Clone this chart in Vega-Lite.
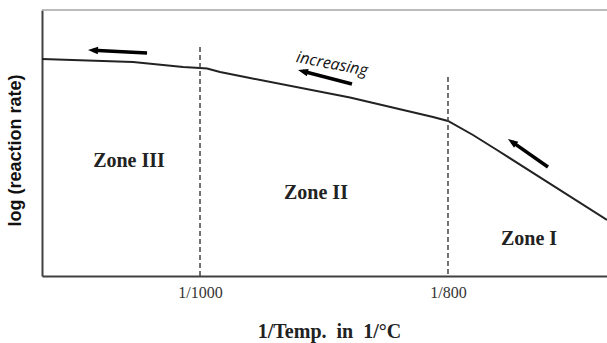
{
  "$schema": "https://vega.github.io/schema/vega-lite/v6.json",
  "width": 565,
  "height": 266,
  "autosize": "none",
  "padding": {"left": 42, "top": 10, "right": 0, "bottom": 67},
  "background": "white",
  "config": {"view": {"stroke": null}},
  "datasets": {
    "curve": [
      {"x": 84.07, "y": 217},
      {"x": 93.25, "y": 214},
      {"x": 98.29, "y": 209},
      {"x": 100, "y": 208},
      {"x": 100.71, "y": 207.5},
      {"x": 102.02, "y": 204},
      {"x": 105.04, "y": 198},
      {"x": 115.12, "y": 178.5},
      {"x": 123.49, "y": 159},
      {"x": 125, "y": 155},
      {"x": 127.52, "y": 141},
      {"x": 129.94, "y": 126},
      {"x": 141.03, "y": 56}
    ],
    "frame": [{"y": 266}],
    "zones": [
      {"x": 100, "y": 229, "y2": 0},
      {"x": 125, "y": 199, "y2": 0}
    ],
    "shafts": [
      {"x": 94.66, "y": 223, "x2": 89.21, "y2": 225.75},
      {"x": 115.32, "y": 192, "x2": 110.37, "y2": 204.74},
      {"x": 135.08, "y": 109, "x2": 131.46, "y2": 134.13}
    ],
    "labels": [
      {"x": 92.84, "y": 115, "label": "Zone III"},
      {"x": 111.69, "y": 83, "label": "Zone II"},
      {"x": 133.17, "y": 37, "label": "Zone I"}
    ]
  },
  "layer": [
    {
      "data": {"name": "frame"},
      "mark": {"type": "rule", "color": "#a6a6a6", "strokeWidth": 1.5},
      "encoding": {
        "y": {
          "field": "y", "type": "quantitative",
          "scale": {"domain": [0, 266], "nice": false, "zero": false},
          "axis": {
            "title": "log (reaction rate)",
            "labels": false, "ticks": false, "grid": false,
            "domainColor": "#404040", "domainWidth": 2,
            "titleFont": "Liberation Sans", "titleFontSize": 18, "titleFontWeight": "bold", "titleColor": "#111111",
            "titleAngle": -90, "titleX": -27, "titleY": 140, "titleBaseline": "middle", "titleAlign": "center"
          }
        }
      }
    },
    {
      "data": {"name": "curve"},
      "mark": {"type": "line", "color": "#222222", "strokeWidth": 2},
      "encoding": {
        "x": {
          "field": "x", "type": "quantitative",
          "scale": {"domain": [84.07, 141.03], "nice": false, "zero": false},
          "axis": {
            "title": "1/Temp.\u00a0\u00a0in\u00a0\u00a01/°C",
            "values": [100, 125],
            "labelExpr": "datum.value == 100 ? '1/1000' : '1/800'",
            "grid": false, "ticks": false, "tickSize": 0,
            "labelFont": "Liberation Serif", "labelFontSize": 16, "labelColor": "#333333",
            "labelPadding": 16, "labelBaseline": "middle",
            "domainColor": "#404040", "domainWidth": 2,
            "titleFont": "Liberation Serif", "titleFontSize": 20, "titleFontWeight": "bold", "titleColor": "#222222",
            "titleX": 287, "titleY": 55, "titleBaseline": "middle", "titleAlign": "center"
          }
        },
        "y": {"field": "y", "type": "quantitative"}
      }
    },
    {
      "data": {"name": "zones"},
      "mark": {"type": "rule", "color": "#444444", "strokeWidth": 1.5, "strokeDash": [5, 3]},
      "encoding": {
        "x": {"field": "x", "type": "quantitative"},
        "y": {"field": "y", "type": "quantitative"},
        "y2": {"field": "y2"}
      }
    },
    {
      "data": {"name": "shafts"},
      "mark": {"type": "rule", "color": "#000000", "strokeWidth": 3.5},
      "encoding": {
        "x": {"field": "x", "type": "quantitative"},
        "y": {"field": "y", "type": "quantitative"},
        "x2": {"field": "x2"},
        "y2": {"field": "y2"}
      }
    },
    {
      "data": {"values": [{"x": 89.21, "y": 225.75}]},
      "mark": {"type": "point", "filled": true, "color": "#000000", "opacity": 1, "size": 100, "shape": "M0,-1L0.75,1L-0.75,1Z", "angle": -87},
      "encoding": {
        "x": {"field": "x", "type": "quantitative"},
        "y": {"field": "y", "type": "quantitative"}
      }
    },
    {
      "data": {"values": [{"x": 110.37, "y": 204.74}]},
      "mark": {"type": "point", "filled": true, "color": "#000000", "opacity": 1, "size": 100, "shape": "M0,-1L0.75,1L-0.75,1Z", "angle": -75.5},
      "encoding": {
        "x": {"field": "x", "type": "quantitative"},
        "y": {"field": "y", "type": "quantitative"}
      }
    },
    {
      "data": {"values": [{"x": 131.46, "y": 134.13}]},
      "mark": {"type": "point", "filled": true, "color": "#000000", "opacity": 1, "size": 100, "shape": "M0,-1L0.75,1L-0.75,1Z", "angle": -55},
      "encoding": {
        "x": {"field": "x", "type": "quantitative"},
        "y": {"field": "y", "type": "quantitative"}
      }
    },
    {
      "data": {"name": "labels"},
      "mark": {"type": "text", "font": "Liberation Serif", "fontSize": 20, "fontWeight": "bold", "color": "#222222", "align": "center", "baseline": "middle"},
      "encoding": {
        "x": {"field": "x", "type": "quantitative"},
        "y": {"field": "y", "type": "quantitative"},
        "text": {"field": "label"}
      }
    },
    {
      "data": {"values": [{"x": 113.31, "y": 212, "label": "increasing"}]},
      "mark": {"type": "text", "font": "Open Sans", "fontSize": 16, "fontStyle": "italic", "color": "#111111", "align": "center", "baseline": "middle", "angle": 11},
      "encoding": {
        "x": {"field": "x", "type": "quantitative"},
        "y": {"field": "y", "type": "quantitative"},
        "text": {"field": "label"}
      }
    }
  ]
}
